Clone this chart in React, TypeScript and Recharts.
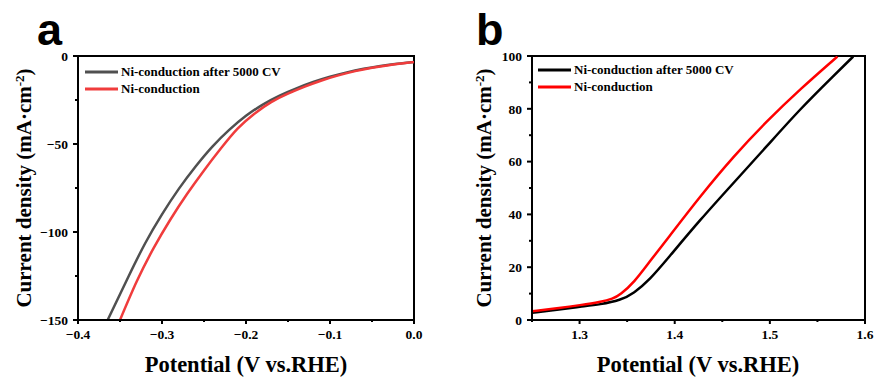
import React from "react";
import { LineChart, Line, XAxis, YAxis, Legend, ReferenceArea } from "recharts";

// panel a: HER polarization
const aAfterX = [-0.3647, -0.34, -0.32, -0.3, -0.28, -0.26, -0.24, -0.22, -0.2, -0.18, -0.16, -0.14, -0.12, -0.1, -0.08, -0.06, -0.04, -0.02, 0];
const aAfterY = [-150, -125.4, -106.4, -90, -75.5, -62.8, -51.5, -42, -34, -27.6, -22.5, -18.4, -14.8, -11.8, -9.3, -7.3, -5.7, -4.4, -3.4];
const aFreshX = [-0.35, -0.33, -0.31, -0.29, -0.27, -0.25, -0.23, -0.21, -0.19, -0.17, -0.15, -0.13, -0.11, -0.09, -0.07, -0.05, -0.03, -0.01, 0];
const aFreshY = [-150, -128, -109.2, -92.9, -78.3, -65, -52.6, -41.3, -32.8, -26.2, -21.4, -17.4, -13.9, -11, -8.6, -6.7, -5.2, -4, -3.4];
const aXTicks = [-0.4, -0.3, -0.2, -0.1, 0];
const aXMinor = [-0.35, -0.25, -0.15, -0.05];
const aYTicks = [-150, -100, -50, 0];
const aYMinor = [-125, -75, -25];

// panel b: OER polarization
const bAfterX = [1.25, 1.28, 1.3, 1.322, 1.343, 1.357, 1.374, 1.392, 1.427, 1.462, 1.497, 1.532, 1.567, 1.5876];
const bAfterY = [2.7, 4.0, 5.0, 5.9, 7.5, 10.1, 15.4, 23, 38.1, 52, 65.9, 80, 92.5, 99.8];
const bFreshX = [1.25, 1.28, 1.3, 1.322, 1.335, 1.343, 1.357, 1.374, 1.392, 1.427, 1.462, 1.497, 1.532, 1.571];
const bFreshY = [3.3, 4.6, 5.6, 6.8, 8.0, 9.7, 14.1, 22.3, 30.6, 47, 62.1, 75.4, 87.5, 99.8];
const bXTicks = [1.3, 1.4, 1.5, 1.6];
const bXMinor = [1.25, 1.35, 1.45, 1.55];
const bYTicks = [0, 20, 40, 60, 80, 100];
const bYMinor = [10, 30, 50, 70, 90];

const seriesNames = ["Ni-conduction after 5000 CV", "Ni-conduction"];

const SERIF = "'Liberation Serif', 'Times New Roman', serif";
const TICK = 5;
const MARGIN = 5;

const zip = (xs: number[], ys: number[]) => xs.map((x, i) => ({ x, y: ys[i] }));
const fmt = (v: number, d: number) => (v < 0 ? "\u2212" : "") + Math.abs(v).toFixed(d);

function XTick({ x, y, payload, majors, digits }: any) {
  const axisY = y - TICK - MARGIN;
  const major = majors.some((m: number) => Math.abs(m - payload.value) < 1e-9);
  return (
    <g>
      <line x1={x} x2={x} y1={axisY} y2={axisY + (major ? TICK : 3)} stroke="#000" strokeWidth={2} />
      {major && (
        <text
          x={x}
          y={y}
          dy="0.71em"
          textAnchor="middle"
          fill="#000"
          style={{ fontFamily: SERIF, fontWeight: 700, fontSize: 13.5, fill: "#000" }}
        >
          {fmt(payload.value, digits)}
        </text>
      )}
    </g>
  );
}

function YTick({ x, y, payload, majors }: any) {
  const axisX = x + TICK + MARGIN;
  const major = majors.includes(payload.value);
  return (
    <g>
      <line x1={axisX - (major ? TICK : 3)} x2={axisX} y1={y} y2={y} stroke="#000" strokeWidth={2} />
      {major && (
        <text
          x={x}
          y={y}
          dy="0.35em"
          textAnchor="end"
          fill="#000"
          style={{ fontFamily: SERIF, fontWeight: 700, fontSize: 13.5, fill: "#000" }}
        >
          {fmt(payload.value, 0)}
        </text>
      )}
    </g>
  );
}

function LegendBox({ payload }: any) {
  const items = [...(payload || [])].sort(
    (a: any, b: any) => seriesNames.indexOf(a.value) - seriesNames.indexOf(b.value)
  );
  return (
    <div style={{ fontFamily: SERIF, fontWeight: "bold", fontSize: 13, lineHeight: "17px", color: "#000" }}>
      {items.map((p: any) => (
        <div key={p.value} style={{ display: "flex", alignItems: "center", height: 17, whiteSpace: "nowrap" }}>
          <svg width={33} height={4} style={{ display: "block" }}>
            <line x1={0} x2={33} y1={2} y2={2} stroke={p.color} strokeWidth={3} />
          </svg>
          <span style={{ marginLeft: 3 }}>{p.value}</span>
        </div>
      ))}
    </div>
  );
}

type PanelProps = {
  left: number;
  width: number;
  margin: { top: number; right: number; bottom: number; left: number };
  xDomain: [number, number];
  yDomain: [number, number];
  xTicks: number[];
  xMinor: number[];
  yTicks: number[];
  yMinor: number[];
  digits: number;
  after: { x: number; y: number }[];
  fresh: { x: number; y: number }[];
  colors: [string, string];
  curve: "natural" | "basis";
  legendLeft: number;
  legendTop: number;
};

function Panel(p: PanelProps) {
  const xAll = [...p.xTicks, ...p.xMinor].sort((a, b) => a - b);
  const yAll = [...p.yTicks, ...p.yMinor].sort((a, b) => a - b);
  return (
    <div style={{ position: "absolute", left: p.left, top: 0 }}>
      <LineChart width={p.width} height={378} margin={p.margin}>
        <XAxis
          type="number"
          dataKey="x"
          domain={p.xDomain}
          ticks={xAll}
          interval={0}
          allowDataOverflow
          height={30}
          tickSize={TICK}
          tickMargin={MARGIN - 1}
          tickLine={false}
          axisLine={{ stroke: "#000", strokeWidth: 2 }}
          tick={<XTick majors={p.xTicks} digits={p.digits} />}
        />
        <YAxis
          type="number"
          dataKey="y"
          domain={p.yDomain}
          ticks={yAll}
          interval={0}
          allowDataOverflow
          width={40}
          tickSize={TICK}
          tickMargin={MARGIN}
          tickLine={false}
          axisLine={{ stroke: "#000", strokeWidth: 2 }}
          tick={<YTick majors={p.yTicks} />}
        />
        <ReferenceArea
          x1={p.xDomain[0]}
          x2={p.xDomain[1]}
          y1={p.yDomain[0]}
          y2={p.yDomain[1]}
          fill="none"
          stroke="#000"
          strokeWidth={2}
          ifOverflow="visible"
        />
        <Line
          data={p.after}
          dataKey="y"
          name={seriesNames[0]}
          type={p.curve}
          stroke={p.colors[0]}
          strokeWidth={2.5}
          dot={false}
          isAnimationActive={false}
        />
        <Line
          data={p.fresh}
          dataKey="y"
          name={seriesNames[1]}
          type={p.curve}
          stroke={p.colors[1]}
          strokeWidth={2.5}
          dot={false}
          isAnimationActive={false}
        />
        <Legend
          layout="vertical"
          align="center"
          verticalAlign="middle"
          content={<LegendBox />}
          wrapperStyle={{ left: p.legendLeft, top: p.legendTop, width: "auto" }}
        />
      </LineChart>
    </div>
  );
}

function YTitle({ x }: { x: number }) {
  return (
    <text
      transform={`translate(${x},188) rotate(-90)`}
      textAnchor="middle"
      fontFamily={SERIF}
      fontWeight="bold"
      fontSize={21}
      fill="#000"
    >
      Current density (mA·cm
      <tspan fontSize={13} baselineShift="super">-2</tspan>
      <tspan>)</tspan>
    </text>
  );
}

export default function App() {
  return (
    <div style={{ position: "absolute", left: 0, top: 0, width: 877, height: 378, background: "#fff", overflow: "hidden" }}>
      <Panel
        left={0}
        width={440}
        margin={{ top: 56, right: 26, bottom: 28, left: 38 }}
        xDomain={[-0.4, 0]}
        yDomain={[-150, 0]}
        xTicks={aXTicks}
        xMinor={aXMinor}
        yTicks={aYTicks}
        yMinor={aYMinor}
        digits={1}
        after={zip(aAfterX, aAfterY)}
        fresh={zip(aFreshX, aFreshY)}
        colors={["#505050", "#f03c3c"]}
        curve="natural"
        legendLeft={85}
        legendTop={63}
      />
      <Panel
        left={440}
        width={437}
        margin={{ top: 56, right: 12, bottom: 28, left: 52 }}
        xDomain={[1.25, 1.6]}
        yDomain={[0, 100]}
        xTicks={bXTicks}
        xMinor={bXMinor}
        yTicks={bYTicks}
        yMinor={bYMinor}
        digits={1}
        after={zip(bAfterX, bAfterY)}
        fresh={zip(bFreshX, bFreshY)}
        colors={["#000000", "#ff0000"]}
        curve="basis"
        legendLeft={98}
        legendTop={61}
      />
      <svg width={877} height={378} style={{ position: "absolute", left: 0, top: 0, pointerEvents: "none" }}>
        <text x={37} y={45} fontFamily="'Liberation Sans', Arial, sans-serif" fontWeight="bold" fontSize={45} fill="#000">a</text>
        <text x={476} y={45} fontFamily="'Liberation Sans', Arial, sans-serif" fontWeight="bold" fontSize={45} fill="#000">b</text>
        <text x={246} y={372} textAnchor="middle" fontFamily={SERIF} fontWeight="bold" fontSize={22.5} fill="#000">Potential (V vs.RHE)</text>
        <text x={698} y={372} textAnchor="middle" fontFamily={SERIF} fontWeight="bold" fontSize={22.5} fill="#000">Potential (V vs.RHE)</text>
        <YTitle x={31} />
        <YTitle x={491} />
      </svg>
    </div>
  );
}
